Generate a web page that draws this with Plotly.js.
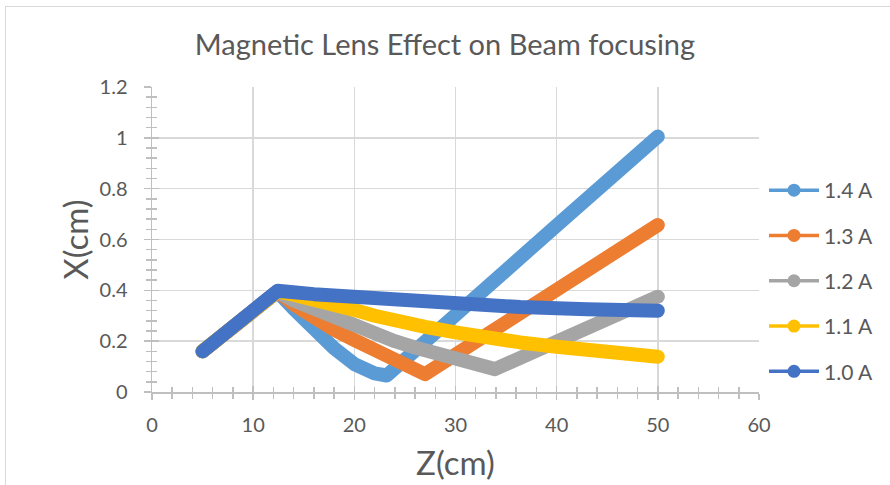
<!DOCTYPE html>
<html>
<head>
<meta charset="utf-8">
<script src="https://cdn.plot.ly/plotly-3.0.1.min.js"></script>
<style>
  html, body { margin: 0; padding: 0; background: #ffffff; overflow: hidden; width: 890px; height: 485px; }
  #chart { width: 890px; height: 485px; position: absolute; left: 0; top: 0; }
  #frame { position: absolute; left: 5px; top: 6px; width: 900px; height: 500px;
           border: 1px solid #d9d9d9; pointer-events: none; box-sizing: border-box; }
  .scatterlayer path.js-line { stroke-linejoin: round !important; stroke-linecap: round !important; }
</style>
</head>
<body>
<div id="chart"></div>
<div id="frame"></div>
<script>
// Series names and colours
const seriesNames = ["1.4 A", "1.3 A", "1.2 A", "1.1 A", "1.0 A"];
const seriesColors = ["#5B9BD5", "#ED7D31", "#A5A5A5", "#FFC000", "#4472C4"];

// Z (cm) and X (cm) values
const z14 = [5, 12.4, 14, 16, 18, 20, 21, 22, 23.2, 24, 30, 40, 50];
const x14 = [0.16, 0.395, 0.328, 0.247, 0.172, 0.11, 0.088, 0.073, 0.065, 0.092, 0.303, 0.655, 1.005];

const z13 = [5, 12.4, 14, 16, 18, 20, 22, 24, 25.5, 27, 30, 40, 50];
const x13 = [0.16, 0.395, 0.345, 0.292, 0.245, 0.205, 0.167, 0.128, 0.098, 0.07, 0.147, 0.403, 0.657];

const z12 = [5, 12.4, 14, 16, 18, 20, 22, 24, 26, 28, 30, 32, 33.9, 40, 50];
const x12 = [0.16, 0.395, 0.36, 0.325, 0.295, 0.265, 0.232, 0.2, 0.175, 0.153, 0.131, 0.11, 0.09, 0.198, 0.375];

const z11 = [5, 12.4, 14, 16, 18, 20, 22, 24, 27, 30, 33, 36.4, 40, 45, 50];
const x11 = [0.16, 0.395, 0.383, 0.366, 0.346, 0.323, 0.3, 0.28, 0.256, 0.235, 0.213, 0.195, 0.178, 0.157, 0.139];

const z10 = [5, 12.4, 16, 20, 25, 30, 36.4, 43, 50];
const x10 = [0.16, 0.398, 0.385, 0.374, 0.362, 0.35, 0.334, 0.326, 0.32];

const zSeries = [z14, z13, z12, z11, z10];
const xSeries = [x14, x13, x12, x11, x10];

// Axis ticks
const xTickVals = [0, 10, 20, 30, 40, 50, 60];
const yTickVals = [0, 0.2, 0.4, 0.6, 0.8, 1, 1.2];

const FONT = "Lato, 'Open Sans', sans-serif";
const TXT = "#595959";
const GRID = "#d9d9d9";
const AXIS = "#bfbfbf";

const traces = [];
for (let i = 0; i < seriesNames.length; i++) {
  traces.push({
    type: "scatter", mode: "lines",
    x: zSeries[i], y: xSeries[i],
    name: seriesNames[i], showlegend: false,
    line: { color: seriesColors[i], width: 14 },
    hoverinfo: "skip"
  });
}
// legend entries (thin line with dot, as in the reference)
for (let i = 0; i < seriesNames.length; i++) {
  traces.push({
    type: "scatter", mode: "lines+markers",
    x: [null], y: [null],
    name: seriesNames[i], legendgroup: "g" + i, showlegend: true,
    line: { color: seriesColors[i], width: 3.5 },
    marker: { color: seriesColors[i], size: 13 }
  });
}
// invisible overlay trace for the inside half of crossing ticks
traces.push({ type: "scatter", x: [null], y: [null], xaxis: "x2", yaxis: "y2", showlegend: false, hoverinfo: "skip" });

const baseAxis = {
  showline: true, linecolor: AXIS, linewidth: 1.5,
  showgrid: true, gridcolor: GRID, gridwidth: 1.5,
  zeroline: false,
  tickcolor: AXIS, tickwidth: 1.5,
  tickfont: { family: FONT, size: 20, color: TXT },
  fixedrange: true
};

const layout = {
  width: 890, height: 485,
  paper_bgcolor: "rgba(0,0,0,0)", plot_bgcolor: "#ffffff",
  margin: { l: 152, r: 131, t: 87, b: 93 },
  title: {
    text: "Magnetic Lens Effect on Beam focusing",
    font: { family: FONT, size: 29, color: TXT },
    x: 0.5, xref: "container", xanchor: "center",
    y: 1 - 45 / 485, yref: "container", yanchor: "middle"
  },
  xaxis: Object.assign({}, baseAxis, {
    range: [0, 60], tickmode: "array", tickvals: xTickVals,
    ticks: "outside", ticklen: 6,
    minor: { dtick: 2, ticks: "outside", ticklen: 5, tickcolor: AXIS, tickwidth: 1.5, showgrid: false },
    ticklabelstandoff: 8,
    title: { text: "Z(cm)", font: { family: FONT, size: 33, color: TXT }, standoff: 17 }
  }),
  yaxis: Object.assign({}, baseAxis, {
    range: [0, 1.2], tickmode: "array", tickvals: yTickVals,
    ticks: "outside", ticklen: 7,
    minor: { dtick: 0.04, ticks: "outside", ticklen: 5, tickcolor: AXIS, tickwidth: 1.5, showgrid: false },
    ticklabelstandoff: 12,
    title: { text: "X(cm)", font: { family: FONT, size: 33, color: TXT }, standoff: 1 }
  }),
  xaxis2: {
    overlaying: "x", matches: "x", range: [0, 60], anchor: "y2", side: "bottom",
    showgrid: false, zeroline: false, showline: false, showticklabels: false,
    tickmode: "array", tickvals: xTickVals, ticks: "inside", ticklen: 6, tickcolor: AXIS, tickwidth: 1.5,
    minor: { dtick: 2, ticks: "inside", ticklen: 5, tickcolor: AXIS, tickwidth: 1.5, showgrid: false },
    fixedrange: true
  },
  yaxis2: {
    overlaying: "y", matches: "y", range: [0, 1.2], anchor: "x2", side: "left",
    showgrid: false, zeroline: false, showline: false, showticklabels: false,
    tickmode: "array", tickvals: yTickVals, ticks: "inside", ticklen: 7, tickcolor: AXIS, tickwidth: 1.5,
    minor: { dtick: 0.04, ticks: "inside", ticklen: 5, tickcolor: AXIS, tickwidth: 1.5, showgrid: false },
    fixedrange: true
  },
  legend: {
    x: 764 / 890, xref: "container", xanchor: "left",
    y: 1 - 170 / 485, yref: "container", yanchor: "top",
    traceorder: "grouped", tracegroupgap: 15,
    itemwidth: 50,
    font: { family: FONT, size: 21, color: TXT },
    bgcolor: "rgba(0,0,0,0)", borderwidth: 0
  },
  showlegend: true
};

Plotly.newPlot("chart", traces, layout, { displayModeBar: false, staticPlot: true });
</script>
</body>
</html>
